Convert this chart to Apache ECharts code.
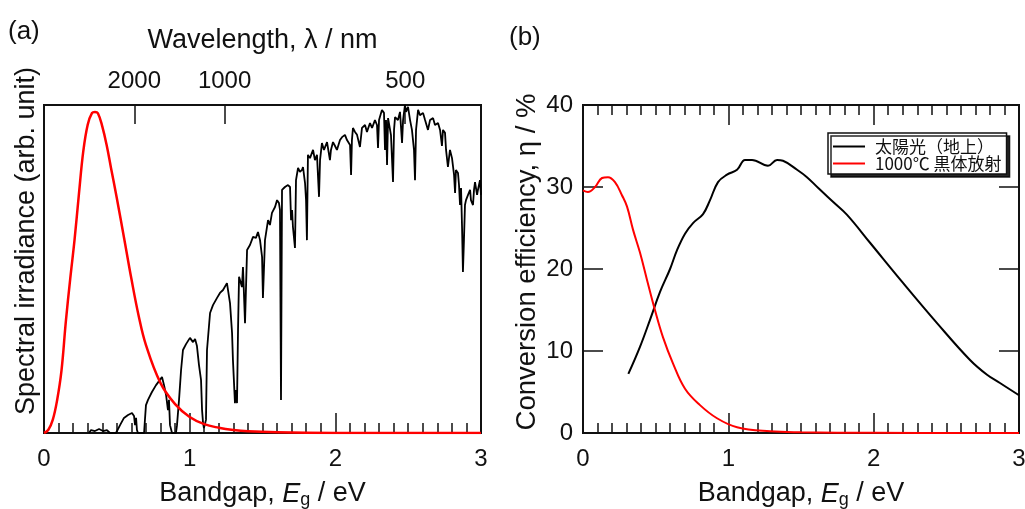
<!DOCTYPE html>
<html><head><meta charset="utf-8">
<script src="https://cdn.jsdelivr.net/npm/echarts@6/dist/echarts.min.js"></script>
<style>html,body{margin:0;padding:0;background:#fff}#c{width:1025px;height:509px}</style>
</head><body><div id="c"></div>
<script>
// (a) solar spectrum (terrestrial) vs photon energy, normalized
const solarE = [0.309,0.323,0.350,0.378,0.405,0.432,0.453,0.467,0.494,0.501,0.522,0.549,0.577,0.604,0.618,0.625,0.632,0.638,0.645,0.687,0.693,0.700,0.714,0.741,0.769,0.796,0.810,0.824,0.838,0.851,0.858,0.865,0.879,0.906,0.913,0.927,0.941,0.954,0.975,1.002,1.023,1.037,1.050,1.064,1.078,1.085,1.092,1.098,1.112,1.119,1.140,1.160,1.188,1.208,1.229,1.256,1.277,1.291,1.297,1.311,1.318,1.325,1.332,1.339,1.359,1.366,1.380,1.394,1.414,1.435,1.455,1.469,1.483,1.497,1.503,1.517,1.538,1.551,1.565,1.586,1.600,1.613,1.620,1.627,1.634,1.654,1.675,1.689,1.696,1.703,1.709,1.723,1.730,1.744,1.757,1.771,1.778,1.792,1.799,1.805,1.812,1.826,1.847,1.860,1.874,1.888,1.895,1.908,1.922,1.943,1.963,1.970,1.984,1.998,2.011,2.032,2.046,2.066,2.080,2.101,2.108,2.114,2.121,2.135,2.149,2.169,2.183,2.204,2.217,2.238,2.252,2.272,2.286,2.293,2.300,2.320,2.334,2.341,2.348,2.355,2.362,2.375,2.382,2.396,2.403,2.410,2.430,2.444,2.458,2.465,2.478,2.485,2.499,2.513,2.526,2.540,2.547,2.554,2.568,2.581,2.602,2.616,2.636,2.650,2.671,2.684,2.705,2.719,2.732,2.739,2.753,2.760,2.773,2.787,2.801,2.815,2.822,2.828,2.842,2.849,2.856,2.863,2.870,2.876,2.883,2.890,2.897,2.911,2.925,2.931,2.945,2.952,2.959,2.973,2.979,2.993,3.000];
const solarI = [0.000,0.009,0.006,0.012,0.006,0.009,0.000,0.000,0.000,0.006,0.024,0.046,0.055,0.061,0.052,0.024,0.046,0.009,0.000,0.000,0.040,0.085,0.101,0.125,0.146,0.162,0.171,0.146,0.116,0.070,0.101,0.024,0.000,0.000,0.024,0.101,0.192,0.253,0.271,0.290,0.277,0.287,0.265,0.207,0.162,0.070,0.030,0.015,0.040,0.253,0.366,0.390,0.412,0.427,0.436,0.457,0.396,0.305,0.223,0.091,0.131,0.091,0.314,0.476,0.445,0.506,0.335,0.558,0.573,0.598,0.595,0.613,0.588,0.537,0.412,0.588,0.649,0.634,0.671,0.689,0.710,0.701,0.680,0.101,0.741,0.750,0.756,0.750,0.649,0.680,0.628,0.564,0.771,0.808,0.796,0.802,0.811,0.762,0.710,0.588,0.848,0.838,0.863,0.832,0.848,0.720,0.832,0.884,0.863,0.887,0.832,0.863,0.887,0.875,0.863,0.893,0.902,0.909,0.893,0.878,0.787,0.893,0.930,0.918,0.909,0.872,0.930,0.939,0.918,0.945,0.930,0.954,0.939,0.869,0.954,0.985,0.976,0.863,0.954,0.817,0.960,0.954,0.908,0.765,0.924,0.963,0.954,0.979,0.884,0.954,1.000,0.979,0.994,0.954,0.924,0.863,0.771,0.924,0.985,0.969,0.976,0.954,0.924,0.954,0.960,0.939,0.945,0.924,0.875,0.924,0.915,0.863,0.811,0.863,0.838,0.787,0.732,0.802,0.793,0.756,0.695,0.747,0.625,0.491,0.588,0.695,0.710,0.726,0.741,0.710,0.695,0.741,0.765,0.726,0.741,0.771,0.726];
// (a) blackbody 1000 C spectrum, normalized
const bbE = [0,0.03,0.06,0.09,0.12,0.15,0.18,0.21,0.24,0.27,0.30,0.33,0.35,0.37,0.40,0.43,0.46,0.50,0.55,0.60,0.65,0.70,0.80,0.90,1.0,1.1,1.2,1.3,1.4,1.6,2.0,3.0];
const bbI = [0,0.01,0.04,0.10,0.19,0.34,0.47,0.59,0.73,0.86,0.94,0.976,0.979,0.975,0.935,0.878,0.808,0.716,0.594,0.47,0.357,0.268,0.152,0.088,0.049,0.027,0.016,0.009,0.005,0.002,0.0003,0];
// (b) conversion efficiency (%) vs bandgap
const effSolarE = [0.312,0.392,0.461,0.530,0.599,0.647,0.702,0.757,0.826,0.874,0.929,0.991,1.060,1.115,1.163,1.273,1.335,1.376,1.473,1.541,1.617,1.720,1.817,1.975,2.202,2.436,2.663,2.780,2.869,3.0];
const effSolar  = [7.2,10.5,13.8,17.2,20.0,22.3,24.3,25.6,26.7,28.4,30.6,31.5,32.1,33.3,33.3,32.6,33.3,33.2,32.1,31.2,29.9,28.2,26.6,23.2,18.3,13.4,8.9,7.1,6.1,4.6];
const effBbE = [0,0.034,0.083,0.131,0.172,0.220,0.268,0.303,0.344,0.392,0.440,0.495,0.550,0.619,0.702,0.805,0.922,1.060,1.287,1.5,2.0,3.0];
const effBb  = [29.6,29.4,30.0,31.1,31.2,30.6,29.0,27.6,24.8,22.0,18.7,15.0,11.7,8.5,5.4,3.4,1.8,0.7,0.2,0.08,0.02,0];
// ticks / labels
const wavelengthTicks = [2000, 1000, 500];
const legendNames = ['太陽光（地上）', '1000℃ 黒体放射'];

const zip = (a, b) => a.map((v, i) => [v, b[i]]);
const hc = 1239.84;
const wlPos = wavelengthTicks.map(w => hc / w);
const FONT = "'Liberation Sans', Arial, sans-serif";
const K = '#111';
const tickStyle = {lineStyle: {color: K, width: 1.5}};
const axisLine = {show: true, onZero: false, lineStyle: {color: K, width: 2}};
const nameRich = {
  i: {fontStyle: 'italic', fontSize: 27, fontFamily: FONT, color: K},
  s: {fontSize: 18, fontFamily: FONT, color: K, padding: [12, 0, 0, 0]}
};
function bottomX(grid) {
  return {
    type: 'value', gridIndex: grid, position: 'bottom', min: 0, max: 3, interval: 1,
    axisLine: axisLine,
    axisTick: {show: true, inside: true, length: 20, ...tickStyle},
    minorTick: {show: true, splitNumber: 10, length: 10, lineStyle: {color: K, width: 1.5}},
    axisLabel: {fontSize: 24, fontFamily: FONT, color: K, margin: 14},
    splitLine: {show: false},
    name: 'Bandgap, {i|E}{s|g} / eV', nameLocation: 'middle', nameGap: 46,
    nameTextStyle: {fontSize: 27, fontFamily: FONT, color: K, rich: nameRich}
  };
}
const option = {
  animation: false,
  backgroundColor: '#fff',
  graphic: [
    {type: 'text', left: 8, top: 19, style: {text: '(a)', fontSize: 26, fontFamily: FONT, fill: K}},
    {type: 'text', left: 509, top: 25, style: {text: '(b)', fontSize: 26, fontFamily: FONT, fill: K}}
  ],
  grid: [
    {left: 44, top: 105, width: 437, height: 328, show: true, borderColor: K, borderWidth: 2, outerBoundsMode: 'none', containLabel: false},
    {left: 583, top: 105, width: 436, height: 328, show: true, borderColor: K, borderWidth: 2, outerBoundsMode: 'none', containLabel: false}
  ],
  legend: {
    data: legendNames, orient: 'vertical', left: 828, top: 133,
    icon: 'rect', itemWidth: 32, itemHeight: 2, itemGap: 0,
    padding: [5, 5, 2, 5],
    backgroundColor: '#fff', borderColor: K, borderWidth: 1.5, borderRadius: 0,
    shadowColor: 'rgba(0,0,0,0.85)', shadowBlur: 0, shadowOffsetX: 3, shadowOffsetY: 3,
    textStyle: {fontSize: 17, lineHeight: 15, fontFamily: "'Noto Sans CJK JP', sans-serif", color: K, padding: [0, 0, 0, 5]}
  },
  xAxis: [
    bottomX(0),
    {
      type: 'value', gridIndex: 0, position: 'top', min: 0, max: 3,
      axisLine: axisLine,
      axisTick: {show: true, inside: true, length: 19, customValues: wlPos, ...tickStyle},
      axisLabel: {show: true, customValues: wlPos, fontSize: 24, fontFamily: FONT, color: K, margin: 12,
        formatter: v => String(Math.round(hc / v))},
      splitLine: {show: false},
      name: 'Wavelength, λ / nm', nameLocation: 'middle', nameGap: 51,
      nameTextStyle: {fontSize: 27, fontFamily: FONT, color: K}
    },
    bottomX(1),
    {
      type: 'value', gridIndex: 1, position: 'top', min: 0, max: 3, interval: 1,
      axisLine: axisLine,
      axisTick: {show: true, inside: true, length: 20, ...tickStyle},
      minorTick: {show: true, splitNumber: 10, length: 10, lineStyle: {color: K, width: 1.5}},
      axisLabel: {show: false}, splitLine: {show: false}
    }
  ],
  yAxis: [
    {
      type: 'value', gridIndex: 0, min: 0, max: 1,
      axisLine: axisLine,
      axisTick: {show: false}, axisLabel: {show: false}, splitLine: {show: false},
      name: 'Spectral irradiance (arb. unit)', nameLocation: 'middle', nameGap: 4,
      nameTextStyle: {fontSize: 27, fontFamily: FONT, color: K, padding: [0, 0, 0, 56]}
    },
    {
      type: 'value', gridIndex: 1, position: 'left', min: 0, max: 40, interval: 10,
      axisLine: axisLine,
      axisTick: {show: true, inside: true, length: 20, ...tickStyle},
      axisLabel: {fontSize: 24, fontFamily: FONT, color: K, margin: 10},
      splitLine: {show: false},
      name: 'Conversion efficiency, η / %', nameLocation: 'middle', nameGap: 42,
      nameTextStyle: {fontSize: 27.5, fontFamily: FONT, color: K, padding: [0, 0, 0, 14]}
    },
    {
      type: 'value', gridIndex: 1, position: 'right', min: 0, max: 40, interval: 10,
      axisLine: axisLine,
      axisTick: {show: true, inside: true, length: 20, ...tickStyle},
      axisLabel: {show: false}, splitLine: {show: false}
    }
  ],
  series: [
    {type: 'line', name: legendNames[0], xAxisIndex: 0, yAxisIndex: 0, data: zip(solarE, solarI),
      symbol: 'none', lineStyle: {color: '#000', width: 1.8}, itemStyle: {color: '#000'}},
    {type: 'line', name: legendNames[1], xAxisIndex: 0, yAxisIndex: 0, data: zip(bbE, bbI),
      symbol: 'none', smooth: 0.4, lineStyle: {color: '#ff0000', width: 2.5}, itemStyle: {color: '#ff0000'}},
    {type: 'line', name: legendNames[0], xAxisIndex: 2, yAxisIndex: 1, data: zip(effSolarE, effSolar),
      symbol: 'none', smooth: 0.4, lineStyle: {color: '#000', width: 2}, itemStyle: {color: '#000'}},
    {type: 'line', name: legendNames[1], xAxisIndex: 2, yAxisIndex: 1, data: zip(effBbE, effBb),
      symbol: 'none', smooth: 0.4, lineStyle: {color: '#ff0000', width: 2}, itemStyle: {color: '#ff0000'}}
  ]
};
const chart = echarts.init(document.getElementById('c'), null, {renderer: 'canvas'});
chart.setOption(option);
</script></body></html>
